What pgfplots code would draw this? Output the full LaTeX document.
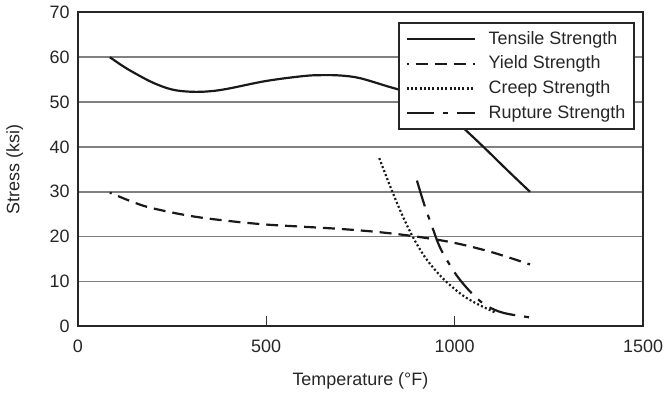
\documentclass[border=0pt]{standalone}
\usepackage{fontspec}
\setmainfont{Liberation Sans}
\usepackage{pgfplots}
\pgfplotsset{compat=1.18}

\begin{document}
\fontsize{18pt}{22pt}\selectfont
\begin{tikzpicture}
\begin{axis}[
  scale only axis,
  width=567pt, height=315pt,
  xmin=0, xmax=1500, ymin=0, ymax=70,
  xtick={0,500,1000,1500},
  ytick={0,10,...,70},
  tick pos=left,
  tick align=inside,
  major tick length=10pt,
  xtick style={line width=1.2pt, black!80},
  ytick style={draw=none},
  ymajorgrids,
  grid style={line width=1.6pt, black!50},
  axis line style={line width=2.2pt, black!85},
  /pgf/number format/assume math mode=true,
  /pgf/number format/1000 sep={},
  ticklabel style={font=\fontsize{18pt}{22pt}\selectfont, text=black!85},
  xticklabel style={yshift=-7pt},
  yticklabel style={xshift=-2pt},
  xlabel={Temperature (\textdegree F)},
  ylabel={Stress (ksi)},
  label style={font=\fontsize{18pt}{22pt}\selectfont, text=black!85},
  xlabel style={at={(axis description cs:0.5,-0.1895)}, anchor=base},
  ylabel style={at={(axis description cs:-0.1032,0.5)}, anchor=base},
  legend style={
    at={(axis description cs:0.986,0.968)}, anchor=north east,
    draw=black!85, line width=1.8pt, fill=white,
    font=\fontsize{18pt}{22pt}\selectfont, text=black!85,
    inner xsep=7pt, inner ysep=6pt, row sep=5pt,
    nodes={inner sep=2pt},
    /tikz/every odd column/.append style={column sep=11pt},
  },
  legend cell align=left,
  legend image code/.code={\draw[#1, line width=2.2pt] (0pt,0pt) -- (68pt,0pt);},
]
% tensile strength
\addplot[black!90, line width=2.2pt, smooth, tension=0.6] coordinates {
  (85,60) (120,58) (150,56.5) (200,54.3) (250,52.8) (300,52.3) (350,52.4)
  (400,53) (500,54.7) (600,55.8) (650,56) (700,55.9) (750,55.3) (822,53.5)
  (870,52.3) (920,50.6) (970,48) (1000,46) (1035,43.3) (1084,39.4)
  (1140,34.8) (1200,30)
};
\addlegendentry{Tensile Strength}
% yield strength
\addplot[black!90, line width=2.2pt, smooth, tension=0.6,
  dash pattern=on 12pt off 7pt, dash phase=10pt] coordinates {
  (85,29.8) (150,27.6) (200,26.3) (300,24.6) (400,23.5) (500,22.7) (600,22.2)
  (700,21.7) (800,21) (900,20) (1000,18.6) (1100,16.5) (1200,13.8)
};
\addlegendentry{Yield Strength}
% creep strength
\addplot[black!90, line width=2.2pt, smooth, tension=0.6,
  dash pattern=on 2pt off 2.3pt] coordinates {
  (800,37.5) (830,31) (860,25) (890,19.8) (920,15.6) (950,12.4) (980,9.8)
  (1020,7) (1060,5) (1110,3)
};
\addlegendentry{Creep Strength}
% rupture strength
\addplot[black!90, line width=2.2pt, smooth, tension=0.6,
  dash pattern=on 27pt off 9pt on 5pt off 9pt] coordinates {
  (900,32.5) (920,27) (940,22.3) (960,17.8) (985,14) (1013,10.5) (1050,7)
  (1085,4.6) (1130,3) (1200,2)
};
\addlegendentry{Rupture Strength}
\end{axis}
\path (current axis.south west) ++(-78pt,-66pt) rectangle ++(669pt,393pt);
\end{tikzpicture}
\end{document}
